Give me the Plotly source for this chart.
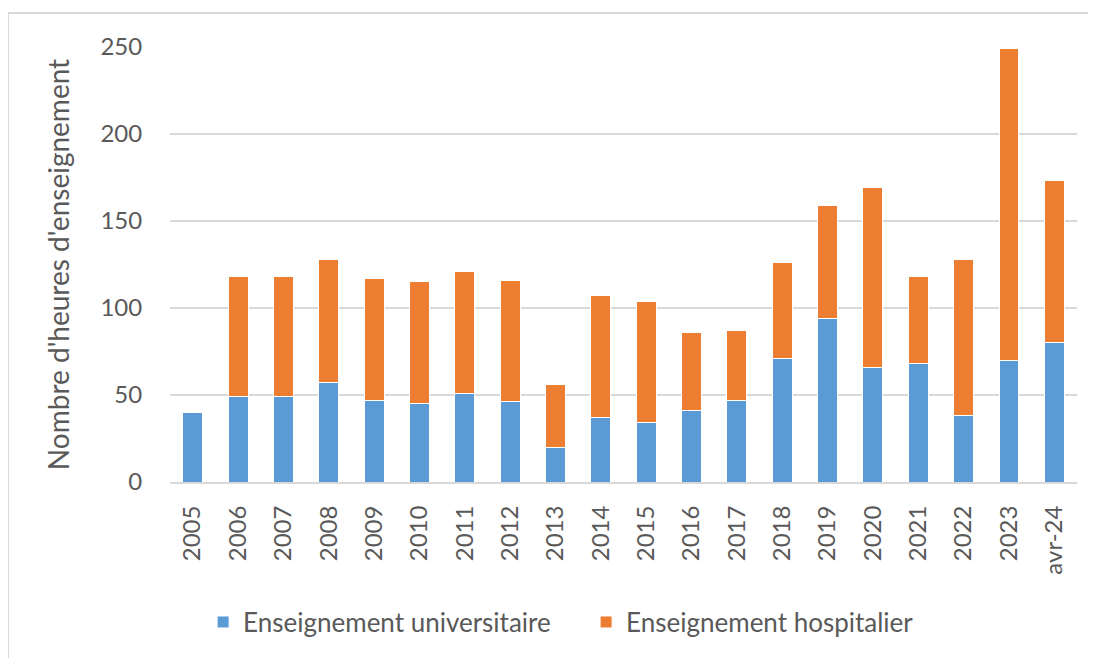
import plotly.graph_objects as go

# Données
annees = ["2005", "2006", "2007", "2008", "2009", "2010", "2011", "2012", "2013", "2014",
          "2015", "2016", "2017", "2018", "2019", "2020", "2021", "2022", "2023", "avr-24"]
universitaire = [40, 49, 49, 57, 47, 45, 51, 46, 20, 37,
                 34, 41, 47, 71, 94, 66, 68, 38, 70, 80]
hospitalier = [0, 69, 69, 71, 70, 70, 70, 70, 36, 70,
               70, 45, 40, 55, 65, 103, 50, 90, 179, 93]

_BLEU = "#5B9BD5"
_ORANGE = "#ED7D31"
_TEXTE = "#595959"
_GRILLE = "#D9D9D9"
_FONT = "Lato, 'Open Sans', sans-serif"

fig = go.Figure()
fig.add_trace(go.Bar(
    x=annees, y=universitaire, name="Enseignement universitaire",
    marker=dict(color=_BLEU, line=dict(color="white", width=1)),
))
fig.add_trace(go.Bar(
    x=annees, y=hospitalier, name="Enseignement hospitalier",
    marker=dict(color=_ORANGE, line=dict(color="white", width=1)),
))

# cadre : seuls les bords haut et gauche sont visibles
cadre = dict(type="line", xref="paper", yref="paper",
             line=dict(color="#D9D9D9", width=2), layer="below")

fig.update_layout(
    width=1096, height=658,
    barmode="stack",
    bargap=0.56,
    paper_bgcolor="white",
    plot_bgcolor="white",
    font=dict(family=_FONT, color=_TEXTE, size=19),
    margin=dict(l=162, r=27, t=39, b=184),
    legend=dict(
        orientation="h", x=0.0365, y=-0.322, xanchor="left", yanchor="middle",
        font=dict(size=26, color=_TEXTE), traceorder="normal",
        itemwidth=30, entrywidth=338, entrywidthmode="pixels",
    ),
    shapes=[
        dict(cadre, x0=-0.1786, x1=1.2, y0=1.078, y1=1.078),
        dict(cadre, x0=-0.1786, x1=-0.1786, y0=-0.6, y1=1.078),
    ],
)
fig.update_xaxes(
    tickangle=-90, tickfont=dict(size=24, color=_TEXTE),
    showline=True, linecolor=_GRILLE, linewidth=2,
    ticks="outside", ticklen=12, tickcolor="rgba(0,0,0,0)", showgrid=False,
)
fig.update_yaxes(
    range=[0, 250], dtick=50,
    tickfont=dict(size=24, color=_TEXTE),
    gridcolor=_GRILLE, gridwidth=2,
    zeroline=False, ticks="outside", ticklen=22, tickcolor="rgba(0,0,0,0)",
    title=dict(text="Nombre d'heures d'enseignement", font=dict(size=28, color=_TEXTE), standoff=22),
)

fig.write_html("out.html")
